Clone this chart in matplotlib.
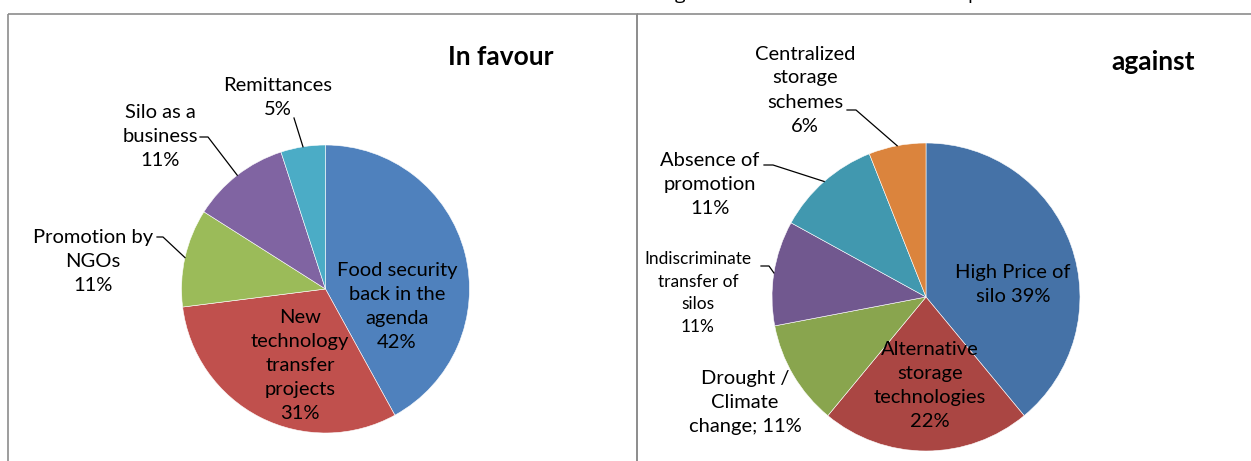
"""Two pie charts: factors in favour of / against silo adoption."""

import numpy as np
import matplotlib.pyplot as plt
from matplotlib.patches import Rectangle

plt.rcParams["font.family"] = ["Lato", "DejaVu Sans"]

# data
favour_labels = ["Food security\nback in the\nagenda", "New\ntechnology\ntransfer\nprojects",
                 "Promotion by\nNGOs", "Silo as a\nbusiness", "Remittances"]
favour_values = [42, 31, 11, 11, 5]
favour_colors = ["#4F81BD", "#C0504D", "#9BBB59", "#8064A2", "#4BACC6"]

against_labels = ["High Price of\nsilo", "Alternative\nstorage\ntechnologies", "Drought /\nClimate\nchange;",
                  "Indiscriminate\ntransfer of\nsilos", "Absence of\npromotion", "Centralized\nstorage\nschemes"]
against_values = [39, 22, 11, 11, 11, 6]
against_colors = ["#4572A7", "#AA4643", "#89A54E", "#71588F", "#4198AF", "#DB843D"]

W, H = 1251, 461
fig = plt.figure(figsize=(W / 100, H / 100), dpi=100)
ax = fig.add_axes([0, 0, 1, 1])
ax.set_xlim(0, W)
ax.set_ylim(H, 0)
ax.axis("off")

# panel borders
ax.add_patch(Rectangle((8, 14), 629, 500, fill=False, edgecolor="#8c8c8c", lw=1.2, clip_on=True))
ax.add_patch(Rectangle((637, 14), 700, 500, fill=False, edgecolor="#8c8c8c", lw=1.2, clip_on=True))

# clipped title descenders above the panels
ax.text(680, -1, "g", fontsize=14, ha="center", va="baseline", family="Open Sans")
ax.text(973, -1, "p", fontsize=14, ha="center", va="baseline", family="Open Sans")


def draw_pie(values, colors, cx, cy, r):
    # y axis is inverted, so counterclock=True draws clockwise on screen
    wedges, _ = ax.pie(values, colors=colors, startangle=-90, counterclock=True,
                       center=(cx, cy), radius=r, frame=True,
                       wedgeprops=dict(edgecolor="white", linewidth=0.4))
    edges = []
    for w in wedges:
        mid = np.deg2rad((w.theta1 + w.theta2) / 2.0)
        edges.append((cx + r * np.cos(mid), cy + r * np.sin(mid)))
    return edges


def leader(points, edge):
    xs = [p[0] for p in points] + [edge[0]]
    ys = [p[1] for p in points] + [edge[1]]
    ax.plot(xs, ys, color="black", lw=0.9)


FS = 14.5
LS = 1.5

# left pie: in favour
edges = draw_pie(favour_values, favour_colors, 325.5, 289, 144)
ax.text(397, 306, "%s\n%d%%" % (favour_labels[0], favour_values[0]), fontsize=FS, ha="center", va="center", linespacing=LS)
ax.text(300, 365, "%s\n%d%%" % (favour_labels[1], favour_values[1]), fontsize=FS, ha="center", va="center", linespacing=LS)
ax.text(93, 261, "%s\n%d%%" % (favour_labels[2], favour_values[2]), fontsize=FS, ha="center", va="center", linespacing=LS)
ax.text(160, 136, "%s\n%d%%" % (favour_labels[3], favour_values[3]), fontsize=FS, ha="center", va="center", linespacing=LS)
ax.text(278, 97, "%s\n%d%%" % (favour_labels[4], favour_values[4]), fontsize=FS, ha="center", va="center", linespacing=LS)
leader([(157, 237), (163, 237)], edges[2])
leader([(200, 137), (208, 137)], edges[3])
leader([(294, 118)], edges[4])
ax.text(501, 57, "In favour", fontsize=19, fontweight="bold", ha="center", va="center")

# right pie: against
edges = draw_pie(against_values, against_colors, 926, 297, 154)
ax.text(1013, 284, "%s %d%%" % (against_labels[0], against_values[0]), fontsize=FS, ha="center", va="center", linespacing=LS)
ax.text(930, 385, "%s\n%d%%" % (against_labels[1], against_values[1]), fontsize=FS, ha="center", va="center", linespacing=LS)
ax.text(745, 402, "%s %d%%" % (against_labels[2], against_values[2]), fontsize=FS, ha="center", va="center", linespacing=LS)
ax.text(698, 293, "%s\n%d%%" % (against_labels[3], against_values[3]), fontsize=12.5, ha="center", va="center", linespacing=1.5)
ax.text(710, 184, "%s\n%d%%" % (against_labels[4], against_values[4]), fontsize=FS, ha="center", va="center", linespacing=LS)
ax.text(805, 90, "%s\n%d%%" % (against_labels[5], against_values[5]), fontsize=FS, ha="center", va="center", linespacing=LS)
leader([(761, 266), (769, 266)], edges[3])
leader([(764, 165), (773, 165)], edges[4])
leader([(847, 110), (856, 110)], edges[5])
ax.text(1153, 62, "against", fontsize=19, fontweight="bold", ha="center", va="center")

fig.savefig("out.png", dpi=100, facecolor="white")
